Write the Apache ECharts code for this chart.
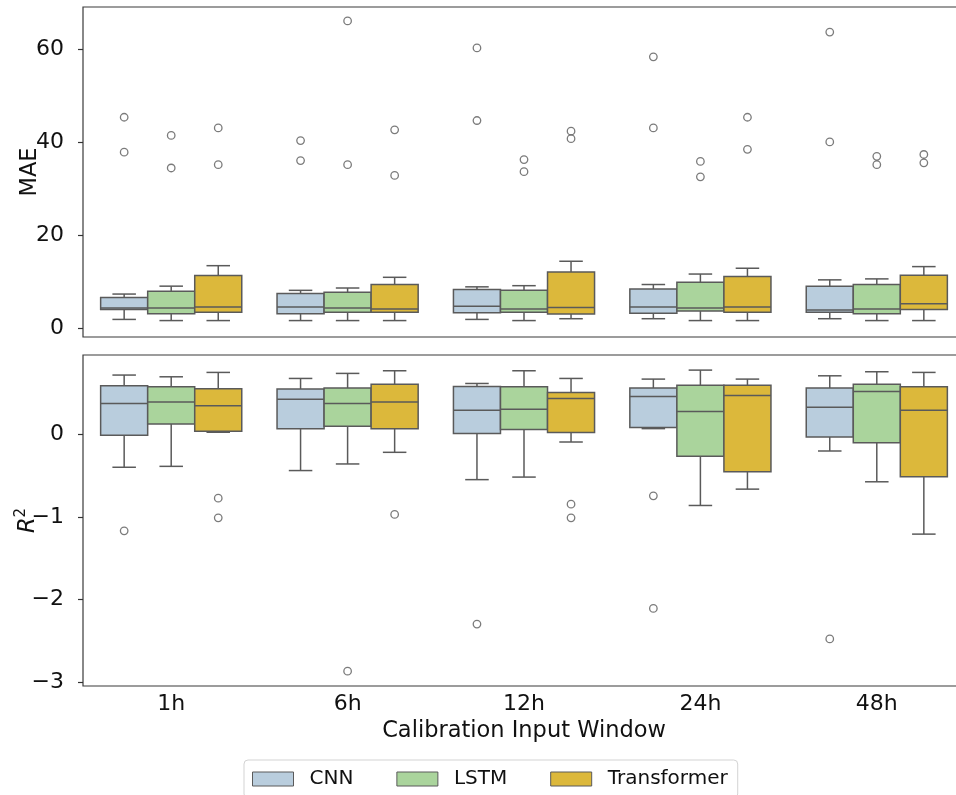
<!DOCTYPE html>
<html>
<head>
<meta charset="utf-8">
<script src="https://cdn.jsdelivr.net/npm/echarts@6/dist/echarts.min.js"></script>
<style>
  html, body { margin: 0; padding: 0; background: #fff; }
  #chart { width: 956px; height: 795px; }
</style>
</head>
<body>
<div id="chart"></div>
<script>
// Calibration input windows (x categories) and model names
const windows = ['1h', '6h', '12h', '24h', '48h'];
const models = ['CNN', 'LSTM', 'Transformer'];

// MAE box statistics per window: [lower whisker, Q1, median, Q3, upper whisker]
const maeCNN = [
  [1.85, 4.0, 4.3, 6.56, 7.3],
  [1.6, 3.06, 4.5, 7.4, 8.1],
  [1.85, 3.3, 4.7, 8.3, 8.85],
  [2.0, 3.2, 4.5, 8.4, 9.35],
  [2.0, 3.4, 3.9, 9.0, 10.35]
];
const maeLSTM = [
  [1.6, 3.06, 4.3, 7.9, 9.0],
  [1.6, 3.4, 4.3, 7.7, 8.6],
  [1.6, 3.4, 4.07, 8.1, 9.1],
  [1.6, 3.64, 4.3, 9.85, 11.6],
  [1.6, 3.06, 4.07, 9.35, 10.56]
];
const maeTransformer = [
  [1.6, 3.4, 4.5, 11.3, 13.4],
  [1.6, 3.4, 4.07, 9.35, 10.9],
  [2.0, 3.0, 4.4, 12.06, 14.35],
  [1.6, 3.4, 4.5, 11.06, 12.85],
  [1.6, 4.0, 5.2, 11.35, 13.2]
];
// MAE outliers per window
const maeOutCNN = [[45.3, 37.8], [40.3, 36.0], [60.2, 44.6], [58.3, 43.0], [63.6, 40.0]];
const maeOutLSTM = [[41.4, 34.4], [66.0, 35.1], [36.2, 33.6], [35.8, 32.5], [36.9, 35.1]];
const maeOutTransformer = [[43.0, 35.1], [42.6, 32.8], [42.3, 40.7], [45.3, 38.4], [37.3, 35.5]];

// R² box statistics per window: [lower whisker, Q1, median, Q3, upper whisker]
const r2CNN = [
  [-0.40, -0.012, 0.372, 0.587, 0.717],
  [-0.44, 0.068, 0.425, 0.547, 0.676],
  [-0.55, 0.008, 0.29, 0.579, 0.615],
  [0.068, 0.081, 0.457, 0.559, 0.668],
  [-0.203, -0.033, 0.328, 0.559, 0.708]
];
const r2LSTM = [
  [-0.389, 0.125, 0.392, 0.575, 0.696],
  [-0.36, 0.097, 0.372, 0.559, 0.737],
  [-0.519, 0.056, 0.303, 0.575, 0.769],
  [-0.863, -0.268, 0.275, 0.595, 0.777],
  [-0.576, -0.102, 0.518, 0.607, 0.757]
];
const r2Transformer = [
  [0.024, 0.036, 0.344, 0.55, 0.749],
  [-0.219, 0.068, 0.392, 0.607, 0.769],
  [-0.094, 0.02, 0.433, 0.506, 0.676],
  [-0.665, -0.454, 0.469, 0.595, 0.668],
  [-1.21, -0.515, 0.29, 0.575, 0.749]
];
// R² outliers per window
const r2OutCNN = [[-1.17], [], [-2.30], [-0.746, -2.11], [-2.48]];
const r2OutLSTM = [[], [-2.87], [], [], []];
const r2OutTransformer = [[-0.774, -1.013], [-0.972], [-0.847, -1.013], [], []];

// Tick values shown on the y axes
const maeTicks = [0, 20, 40, 60];
const r2Ticks = [-3, -2, -1, 0];

const colors = { CNN: '#b9cddd', LSTM: '#aad49c', Transformer: '#dcb83b' };
const edge = '#5a5a5a';
const ink = '#111';
const font = 'DejaVu Sans';
const tickFont = 22;
const titleFont = 22.5;

// Boxes of one group share 80% of the category band, side by side
const GROUP = 0.8;
const BOX = GROUP / models.length;
function dodgeOf(m) { return -GROUP / 2 + BOX * (m + 0.5); }

function boxRenderer(m) {
  const dodge = dodgeOf(m);
  return function (params, api) {
    const x = api.value(0) + dodge;
    const lo = api.coord([x, api.value(1)]);
    const q1 = api.coord([x, api.value(2)]);
    const md = api.coord([x, api.value(3)]);
    const q3 = api.coord([x, api.value(4)]);
    const hi = api.coord([x, api.value(5)]);
    const w = api.size([BOX, 0])[0];
    const half = w / 2;
    const cap = w / 4;
    const cx = lo[0];
    const line = { stroke: edge, lineWidth: 1.5 };
    return {
      type: 'group',
      children: [
        { type: 'line', shape: { x1: cx, y1: q1[1], x2: cx, y2: lo[1] }, style: line },
        { type: 'line', shape: { x1: cx, y1: q3[1], x2: cx, y2: hi[1] }, style: line },
        { type: 'line', shape: { x1: cx - cap, y1: lo[1], x2: cx + cap, y2: lo[1] }, style: line },
        { type: 'line', shape: { x1: cx - cap, y1: hi[1], x2: cx + cap, y2: hi[1] }, style: line },
        { type: 'rect', shape: { x: cx - half, y: q3[1], width: w, height: q1[1] - q3[1] },
          style: { fill: colors[models[m]], stroke: edge, lineWidth: 1.5 } },
        { type: 'line', shape: { x1: cx - half, y1: md[1], x2: cx + half, y2: md[1] }, style: line }
      ]
    };
  };
}

const maeStats = [maeCNN, maeLSTM, maeTransformer];
const maeOut = [maeOutCNN, maeOutLSTM, maeOutTransformer];
const r2Stats = [r2CNN, r2LSTM, r2Transformer];
const r2Out = [r2OutCNN, r2OutLSTM, r2OutTransformer];

const series = [];
[[maeStats, maeOut, 2, 0], [r2Stats, r2Out, 3, 1]].forEach(function (panel) {
  const stats = panel[0], outs = panel[1], xi = panel[2], yi = panel[3];
  models.forEach(function (name, m) {
    series.push({
      type: 'custom', name: name, xAxisIndex: xi, yAxisIndex: yi,
      renderItem: boxRenderer(m),
      itemStyle: { color: colors[name], borderColor: edge },
      encode: { x: 0, y: [1, 2, 3, 4, 5] },
      data: stats[m].map(function (s, i) { return [i].concat(s); }),
      z: 2
    });
  });
  models.forEach(function (name, m) {
    const pts = [];
    outs[m].forEach(function (vals, i) {
      vals.forEach(function (v) { pts.push([i + dodgeOf(m), v]); });
    });
    series.push({
      type: 'scatter', name: name, xAxisIndex: xi, yAxisIndex: yi,
      symbol: 'circle', symbolSize: 7.5,
      itemStyle: { color: 'rgba(0,0,0,0)', borderColor: edge, borderWidth: 1.3 },
      data: pts, z: 3
    });
  });
});

const minus = function (v) { return String(v).replace('-', '\u2212'); };
const tickLine = { color: '#333', width: 1.2 };
const frame = { show: true, borderColor: '#3a3a3a', borderWidth: 1.2,
  containLabel: false, outerBoundsMode: 'none' };

const option = {
  animation: false,
  backgroundColor: '#fff',
  textStyle: { fontFamily: font },
  grid: [
    Object.assign({ left: 83, top: 7, width: 882, height: 330 }, frame),
    Object.assign({ left: 83, top: 355, width: 882, height: 331 }, frame)
  ],
  xAxis: [
    { type: 'category', gridIndex: 0, data: windows, axisLabel: { show: false },
      axisTick: { show: false }, axisLine: { show: false, onZero: false } },
    { type: 'category', gridIndex: 1, data: windows, position: 'bottom',
      axisLine: { show: false, onZero: false },
      axisTick: { alignWithLabel: true, length: 5, lineStyle: tickLine },
      axisLabel: { fontSize: tickFont, color: ink, fontFamily: font, margin: 7 },
      name: 'Calibration Input Window', nameLocation: 'middle', nameGap: 34,
      nameTextStyle: { fontSize: titleFont, color: ink, fontFamily: font } },
    { type: 'value', gridIndex: 0, min: -0.5, max: 4.5, show: false,
      axisLine: { onZero: false } },
    { type: 'value', gridIndex: 1, min: -0.5, max: 4.5, show: false,
      axisLine: { onZero: false } }
  ],
  yAxis: [
    { type: 'value', gridIndex: 0, min: -1.93, max: 69, position: 'left',
      splitLine: { show: false }, axisLine: { show: false, onZero: false },
      axisTick: { customValues: maeTicks, length: 5, lineStyle: tickLine },
      axisLabel: { customValues: maeTicks, fontSize: tickFont, color: ink, fontFamily: font, margin: 19 },
      name: 'MAE', nameLocation: 'middle', nameGap: 41, nameMoveOverlap: false,
      nameTextStyle: { fontSize: titleFont, color: ink, fontFamily: font } },
    { type: 'value', gridIndex: 1, min: -3.05, max: 0.96, position: 'left',
      splitLine: { show: false }, axisLine: { show: false, onZero: false },
      axisTick: { customValues: r2Ticks, length: 5, lineStyle: tickLine },
      axisLabel: { customValues: r2Ticks, fontSize: tickFont, color: ink, fontFamily: font, margin: 19,
        formatter: minus },
      name: '{i|R}{s|2}', nameLocation: 'middle', nameGap: 41, nameMoveOverlap: false,
      nameTextStyle: { fontSize: titleFont, color: ink, fontFamily: font,
        rich: {
          i: { fontSize: titleFont, fontStyle: 'italic', fontFamily: font, color: ink },
          s: { fontSize: 15, fontFamily: font, color: ink, verticalAlign: 'top', lineHeight: 28 }
        } } }
  ],
  legend: {
    left: 244, top: 760,
    data: models.map(function (n) {
      return { name: n, icon: 'rect',
        itemStyle: { color: colors[n], borderColor: edge, borderWidth: 1 } };
    }),
    itemWidth: 41, itemHeight: 14, itemGap: 43,
    padding: [9, 10, 9, 8],
    borderColor: '#d3d3d3', borderWidth: 1, borderRadius: 4,
    backgroundColor: '#fff',
    textStyle: { fontSize: 20, color: ink, fontFamily: font, padding: [0, 0, 0, 11] }
  },
  series: series
};

const chart = echarts.init(document.getElementById('chart'), null, { renderer: 'canvas' });
chart.setOption(option);
</script>
</body>
</html>
